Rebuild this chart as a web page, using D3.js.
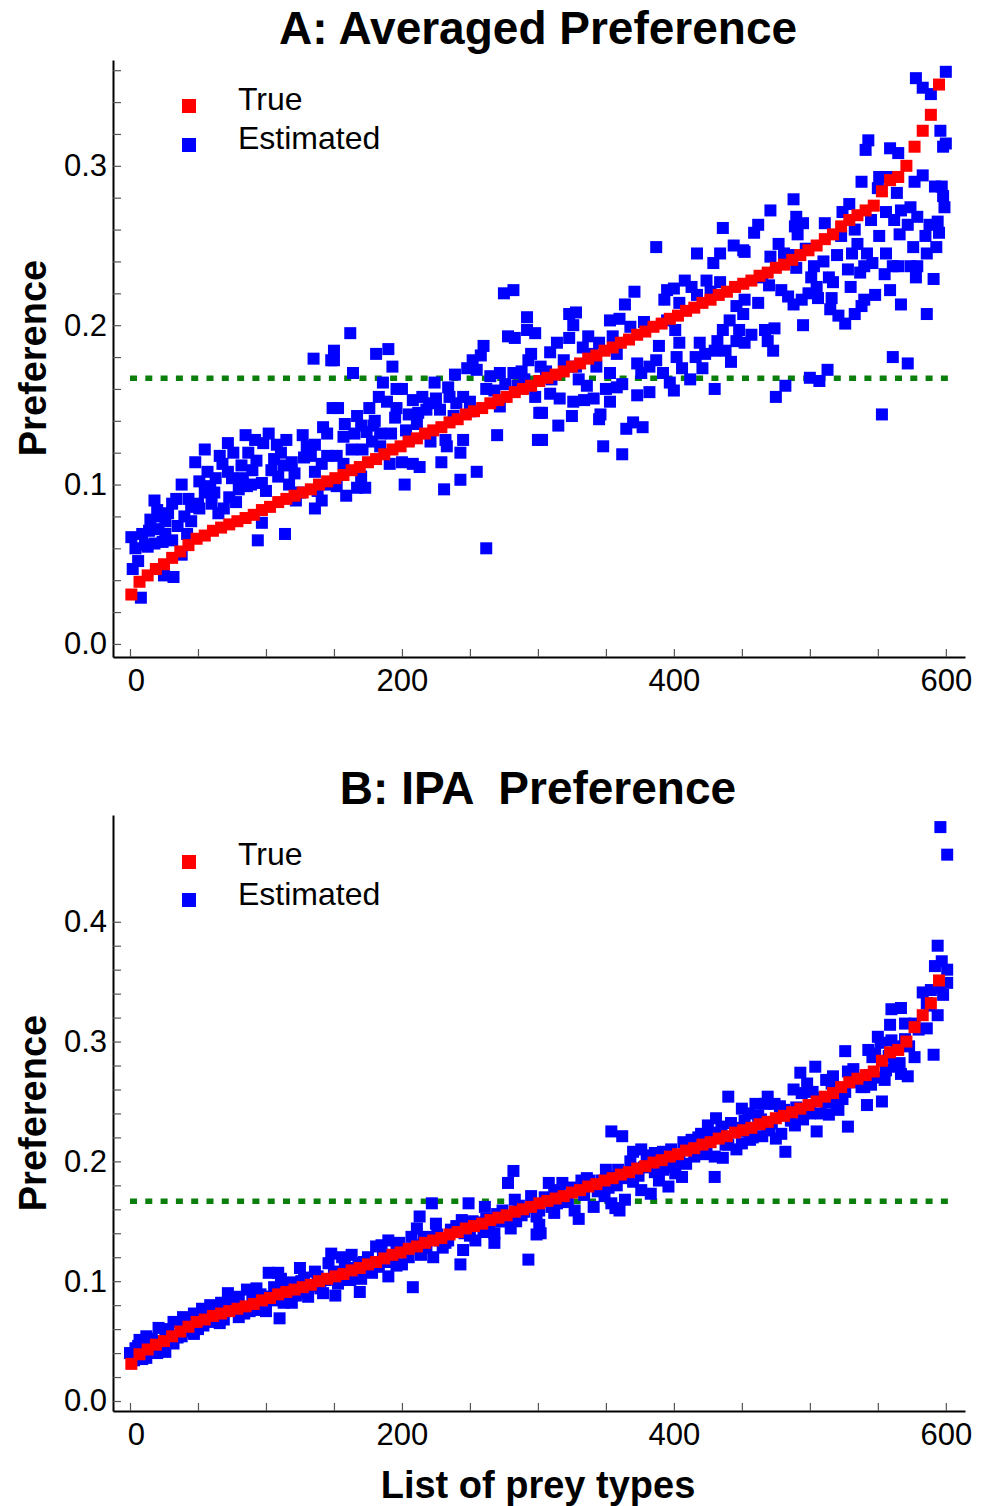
<!DOCTYPE html>
<html><head><meta charset="utf-8">
<script src="https://cdn.jsdelivr.net/npm/d3@7"></script>
<style>
html,body{margin:0;padding:0;background:#fff;}
svg{display:block;font-family:"Liberation Sans",Arial,Helvetica,sans-serif;}
</style></head>
<body>
<svg id="chart" width="989" height="1506"></svg>
<script>
// ---------- DATA ----------
const xTickLabels = [0, 200, 400, 600];
const xTicks = [0,50,100,150,200,250,300,350,400,450,500,550,600];
const yTickLabelsA = [0.0, 0.1, 0.2, 0.3];
const yTicksA = [0,0.02,0.04,0.06,0.08,0.1,0.12,0.14,0.16,0.18,0.2,0.22,0.24,0.26,0.28,0.3,0.32,0.34,0.36];
const yTickLabelsB = [0.0, 0.1, 0.2, 0.3, 0.4];
const yTicksB = [0,0.02,0.04,0.06,0.08,0.1,0.12,0.14,0.16,0.18,0.2,0.22,0.24,0.26,0.28,0.3,0.32,0.34,0.36,0.38,0.4];
const uniformLevel = 1/6;

// true preference (every 6th prey type, sorted)
const trueVals = [0.031,0.039,0.043,0.047,0.050,0.054,0.058,0.062,0.066,0.068,
0.071,0.073,0.075,0.077,0.079,0.081,0.084,0.086,0.089,0.091,
0.093,0.095,0.097,0.100,0.102,0.104,0.106,0.109,0.111,0.114,
0.116,0.119,0.122,0.124,0.127,0.129,0.132,0.134,0.136,0.139,
0.141,0.144,0.146,0.148,0.151,0.153,0.155,0.158,0.160,0.162,
0.165,0.167,0.169,0.171,0.174,0.176,0.179,0.181,0.184,0.186,
0.189,0.191,0.194,0.196,0.199,0.201,0.204,0.206,0.209,0.211,
0.214,0.216,0.219,0.221,0.224,0.226,0.228,0.231,0.233,0.236,
0.238,0.241,0.244,0.247,0.250,0.254,0.257,0.262,0.266,0.269,
0.272,0.275,0.284,0.291,0.293,0.300,0.312,0.322,0.332,0.351];
const truePrey = trueVals.map((v,i)=>1+6*i);

// Panel A: averaged-preference estimates [prey, value]
const estA = [
[8,.029],[2,.047],[6,.052],[1,.067],[11,.062],[18,.063],[15,.078],[23,.080],[21,.072],[18,.090],[32,.042],[25,.043],[38,.056],[31,.065],[38,.100],[34,.091],[42,.069],[45,.077],[48,.114],[55,.122],[51,.102],[59,.099],[62,.095],[51,.085],[72,.126],[72,.108],[76,.120],[69,.085],[73,.092],[80,.097],[85,.131],[82,.112],[87,.120],[93,.115],[89,.100],[97,.101],[94,.065],[97,.076],[102,.132],[98,.126],[104,.109],[109,.105],[114,.069],[115,.128],[111,.120],[117,.100],[121,.107],[127,.131],[130,.124],[136,.125],[125,.095],[122,.090],[136,.085],[141,.090],[142,.136],[145,.132],[136,.108],[141,.113],[135,.179],[148,.178],[149,.148],[147,.100],
[9,.069],[13,.061],[26,.069],[26,.077],[31,.088],[40,.080],[45,.086],[55,.095],[60,.088],[65,.082],[78,.089],[86,.099],
[20,.084],[28,.082],[35,.074],[43,.091],[50,.088],[57,.108],[63,.104],[68,.113],[75,.104],[83,.104],[90,.109],[100,.096],[106,.116],[113,.112],[119,.114],[128,.117],[133,.118],[138,.096],[145,.118],[66,.118],[92,.128],[108,.125],[4,.060],[14,.071],[24,.064],
[162,.195],[150,.184],[150,.178],[181,.182],[190,.185],[193,.174],[164,.170],[186,.164],[196,.160],[200,.160],[153,.148],[183,.155],[189,.152],[176,.148],[167,.143],[158,.138],[157,.130],[179,.137],[174,.133],[184,.132],[192,.132],[195,.142],[205,.144],[208,.153],[215,.155],[220,.151],[225,.154],[218,.147],[224,.164],[203,.134],[211,.138],[235,.155],[240,.151],[245,.155],[250,.152],[234,.161],[239,.169],[248,.173],[252,.178],[258,.181],[260,.187],[255,.172],[265,.168],[272,.170],[278,.193],[283,.192],[275,.220],[282,.222],[292,.205],[292,.197],[298,.195],[295,.182],[293,.178],[282,.170],[288,.171],[268,.159],[272,.149],[298,.155],[301,.145],[300,.128],[270,.131],[232,.128],[233,.124],[245,.128],[243,.120],[229,.114],[221,.127],[200,.114],[208,.113],[213,.111],[191,.113],[184,.124],[178,.127],[171,.122],[163,.122],[157,.113],[152,.118],[152,.099],[159,.093],[167,.098],[173,.098],[170,.105],[202,.100],[231,.097],[243,.103],[255,.108],[262,.060],
[165,.132],[170,.137],[196,.148],[212,.145],[228,.147],[238,.143],[250,.146],[262,.160],[276,.163],[285,.162],[290,.166],[180,.140],[205,.128],
[436,.261],[387,.249],[417,.245],[429,.239],[434,.245],[444,.250],[451,.247],[371,.221],[364,.213],[323,.207],[328,.208],[326,.200],[353,.203],[360,.204],[368,.199],[378,.202],[395,.222],[400,.223],[393,.216],[404,.214],[408,.228],[413,.224],[424,.228],[434,.227],[417,.219],[427,.221],[395,.203],[401,.197],[314,.189],[309,.183],[319,.178],[323,.192],[337,.193],[345,.189],[355,.193],[333,.186],[340,.182],[358,.182],[302,.174],[306,.171],[328,.174],[343,.174],[353,.170],[373,.176],[382,.174],[389,.187],[387,.178],[376,.170],[402,.180],[404,.189],[419,.189],[423,.182],[430,.184],[438,.184],[442,.177],[421,.173],[406,.173],[436,.197],[441,.203],[448,.197],[446,.212],[451,.207],[397,.164],[400,.159],[430,.160],[373,.156],[309,.157],[316,.154],[326,.152],[334,.153],[341,.154],[353,.152],[358,.161],[303,.145],[325,.143],[315,.137],[345,.141],[346,.144],[365,.135],[370,.139],[377,.136],[348,.124],[362,.119],[303,.128],
[310,.166],[330,.166],[336,.162],[350,.160],[362,.163],[382,.158],[392,.170],[412,.166],[416,.180],[432,.190],[446,.190],
[600,.359],[578,.355],[583,.349],[589,.345],[596,.322],[600,.314],[598,.312],[543,.316],[541,.310],[559,.311],[565,.308],[538,.290],[551,.293],[557,.293],[550,.286],[564,.283],[577,.290],[583,.294],[592,.287],[597,.287],[598,.281],[599,.274],[488,.279],[471,.272],[462,.263],[459,.258],[452,.246],[490,.268],[495,.264],[489,.262],[491,.257],[511,.264],[529,.276],[524,.271],[533,.260],[523,.256],[545,.266],[556,.271],[567,.272],[574,.274],[562,.266],[572,.263],[579,.268],[588,.263],[594,.265],[551,.256],[566,.257],[477,.251],[481,.245],[471,.243],[535,.251],[531,.245],[576,.249],[586,.245],[593,.249],[556,.245],[561,.237],[565,.237],[574,.237],[579,.237],[578,.230],[591,.229],[490,.236],[503,.237],[510,.240],[501,.230],[514,.230],[505,.224],[517,.227],[528,.235],[537,.233],[540,.237],[546,.239],[479,.222],[484,.218],[488,.213],[494,.216],[499,.220],[506,.217],[516,.217],[462,.214],[452,.216],[540,.216],[548,.219],[538,.212],[533,.207],[521,.206],[526,.201],[559,.222],[567,.213],[586,.207],[495,.200],[457,.194],[467,.197],[474,.198],[469,.190],[473,.184],[452,.189],[561,.180],[572,.176],[500,.167],[507,.165],[513,.172],[482,.162],[475,.155],[553,.144],
[465,.230],[470,.225],[485,.244],[497,.248],[520,.244],[542,.245],[555,.232],[585,.256],[595,.258],[530,.224],[515,.210]
];

// Panel B: IPA estimates [prey, value]
const estB = [
[0,.040],[4,.044],[7,.051],[12,.054],[12,.036],[20,.040],[21,.061],[26,.060],[32,.066],[26,.041],[32,.048],[39,.070],[47,.073],[38,.054],[47,.056],[53,.077],[59,.080],[54,.063],[61,.066],[67,.082],[72,.090],[80,.087],[69,.068],[80,.070],[86,.093],[93,.094],[88,.075],[94,.076],[100,.075],[102,.107],[109,.107],[111,.102],[110,.069],[104,.087],[113,.082],[119,.082],[125,.111],[114,.095],[125,.098],[130,.090],[136,.108],[131,.087],[142,.090],[151,.088],[146,.115],[148,.123],[156,.120],[163,.122],[153,.098],[160,.101],[169,.091],[165,.111],[175,.120],[170,.102],[178,.107],[181,.129],[190,.134],[185,.130],[190,.104],[183,.112],[198,.132],[200,.114],[205,.120],[208,.095],[207,.137],[213,.154],[211,.144],[219,.137],[223,.120],[225,.148],[222,.165],[232,.132],[236,.143],[244,.151],[245,.126],[243,.114],[249,.165],[254,.134],[261,.162],[258,.146],[268,.140],[268,.132],[274,.159],[278,.182],[282,.192],[280,.144],[283,.168],[293,.118],[295,.171],[299,.154],[299,.139],
[16,.052],[28,.058],[43,.068],[57,.074],[64,.079],[76,.083],[96,.089],[106,.095],[118,.099],[128,.103],[138,.104],[158,.114],[172,.116],[188,.116],[196,.127],[216,.136],[228,.134],[240,.146],[252,.150],[262,.152],[272,.150],[286,.163],[290,.158],
[9,.035],[18,.042],[35,.053],[50,.060],[66,.065],[84,.073],[98,.080],[122,.088],[140,.094],[162,.101],[176,.108],[196,.113],[214,.122],[230,.128],[250,.138],[264,.143],[284,.150],
[3,.034],[6,.046],[14,.047],[22,.050],[30,.055],[40,.062],[44,.058],[52,.070],[58,.068],[62,.074],[70,.075],[74,.080],[82,.078],[90,.085],[92,.080],[99,.087],[105,.084],[112,.093],[116,.088],[124,.092],[126,.100],[133,.096],[144,.101],[150,.108],[155,.102],[166,.106],[168,.115],[179,.113],[186,.122],[194,.119],[202,.124],[210,.130],[218,.128],[226,.139],[234,.134],[238,.141],[246,.140],[256,.149],[260,.141],[270,.156],[276,.150],[288,.155],[296,.164],
[596,.479],[601,.456],[594,.380],[597,.367],[592,.363],[601,.360],[601,.349],[598,.339],[583,.341],[589,.343],[586,.332],[594,.322],[586,.311],[577,.315],[560,.327],[567,.328],[559,.314],[570,.315],[550,.304],[552,.299],[560,.301],[591,.289],[577,.287],[573,.296],[543,.293],[546,.287],[526,.292],[562,.279],[567,.273],[572,.271],[555,.268],[538,.262],[545,.264],[528,.275],[517,.271],[512,.268],[553,.250],[542,.247],[528,.229],[520,.248],[521,.243],[514,.239],[508,.240],[504,.279],[493,.274],[498,.265],[488,.260],[494,.257],[505,.225],[500,.244],[495,.235],[489,.230],[469,.254],[474,.248],[467,.248],[440,.254],[450,.244],[455,.240],[460,.248],[481,.243],[479,.223],[475,.219],[482,.208],[469,.226],[465,.221],[456,.218],[442,.232],[445,.226],[431,.236],[425,.230],[435,.229],[450,.215],[446,.210],[430,.187],[430,.204],[436,.203],[420,.223],[413,.218],[407,.216],[415,.204],[409,.198],[401,.190],[406,.187],[396,.179],[389,.184],[386,.207],[392,.208],[381,.198],[376,.210],[370,.208],[354,.225],[362,.221],[371,.194],[359,.193],[366,.190],[364,.168],[354,.165],[360,.159],[357,.161],[376,.176],[383,.173],[347,.184],[338,.184],[332,.184],[354,.187],[341,.162],[330,.152],[327,.159],[318,.182],[312,.173],[308,.182],[325,.178],[312,.157],[301,.159],[301,.147],[302,.140],[349,.171],
[316,.176],[336,.186],[350,.193],[368,.200],[380,.205],[398,.210],[418,.220],[428,.224],[452,.234],[462,.238],[478,.246],[502,.258],[516,.265],[532,.277],[548,.290],
[310,.162],[322,.166],[344,.175],[358,.180],[374,.188],[392,.193],[404,.200],[422,.206],[440,.214],[458,.220],[470,.226],[486,.234],[500,.240],[524,.252],[540,.262],[556,.276],[566,.282],
[305,.170],[314,.165],[326,.178],[334,.172],[340,.180],[352,.178],[363,.186],[370,.183],[378,.195],[386,.191],[394,.203],[400,.195],[410,.211],[416,.207],[424,.213],[434,.222],[438,.214],[448,.228],[454,.225],[464,.235],[472,.232],[480,.240],[490,.245],[496,.243],[506,.253],[512,.249],[518,.260],[526,.258],[534,.266],[544,.272],[550,.270],[558,.288],[564,.296],[570,.302],[580,.310],[588,.330],[596,.345]
];

// ---------- DRAW ----------
const svg = d3.select("#chart");
const x = d3.scaleLinear().domain([-12.5, 614.1]).range([113, 965]);

function panel(cfg) {
  const y = d3.scaleLinear().domain(cfg.yDomain).range([cfg.bottom, cfg.top]);
  const g = svg.append("g");

  // x axis
  const xa = g.append("g").attr("transform", `translate(0,${cfg.bottom})`)
    .call(d3.axisBottom(x).tickValues(xTicks).tickSizeInner(-8).tickSizeOuter(0).tickPadding(12)
      .tickFormat(d => xTickLabels.includes(d) ? d : ""));
  xa.selectAll(".tick text").filter(d => d === 0).attr("dx", 6);
  // y axis
  const ya = g.append("g").attr("transform", `translate(113,0)`)
    .call(d3.axisLeft(y).tickValues(cfg.yTicks).tickSizeInner(-8).tickSizeOuter(0).tickPadding(6)
      .tickFormat(d => cfg.yLabels.some(l => Math.abs(l - d) < 1e-9) ? d3.format(".1f")(d) : ""));
  [xa, ya].forEach(a => {
    a.select(".domain").attr("stroke", "#000").attr("stroke-width", 2);
    a.selectAll(".tick line").attr("stroke", "#555").attr("stroke-width", 1.2);
    a.selectAll(".tick text").attr("fill", "#000").style("font-size", "31px")
      .style("font-family", '"Liberation Sans",Arial,sans-serif');
  });

  // uniform reference line
  g.append("line")
    .attr("x1", x(0)).attr("x2", x(601.5))
    .attr("y1", y(uniformLevel)).attr("y2", y(uniformLevel))
    .attr("stroke", "#0b7f0b").attr("stroke-width", 5.5)
    .attr("stroke-dasharray", "7 8.3");

  const s = 12;
  g.append("g").selectAll("rect").data(cfg.est).join("rect")
    .attr("x", d => x(d[0]) - s/2).attr("y", d => y(d[1]) - s/2)
    .attr("width", s).attr("height", s).attr("fill", "#0000ff");
  g.append("g").selectAll("rect").data(trueVals).join("rect")
    .attr("x", (d,i) => x(truePrey[i]) - s/2).attr("y", d => y(d) - s/2)
    .attr("width", s).attr("height", s).attr("fill", "#ff0000");

  // legend
  const L = cfg.legend;
  g.append("rect").attr("x", 182).attr("y", L.r - 7).attr("width", 14).attr("height", 14).attr("fill", "#ff0000");
  g.append("rect").attr("x", 182).attr("y", L.b - 7).attr("width", 14).attr("height", 14).attr("fill", "#0000ff");
  g.append("text").attr("x", 238).attr("y", L.t1).style("font-size", "32px").text("True");
  g.append("text").attr("x", 238).attr("y", L.t2).style("font-size", "32px").text("Estimated");

  // title
  g.append("text").attr("x", 538).attr("y", cfg.titleY).attr("text-anchor", "middle")
    .style("font-size", "46px").style("font-weight", "bold").style("white-space", "pre")
    .text(cfg.title);
  // y label
  g.append("text").attr("transform", `translate(46,${cfg.ylabY}) rotate(-90)`)
    .attr("text-anchor", "middle").style("font-size", "38px").style("font-weight", "bold")
    .text("Preference");
}

panel({ top: 60, bottom: 657, yDomain: [-0.0082, 0.3664], yTicks: yTicksA, yLabels: yTickLabelsA,
  est: estA, title: "A: Averaged Preference", titleY: 44, ylabY: 358,
  legend: { r: 106, b: 145, t1: 110, t2: 149 } });
panel({ top: 815, bottom: 1411, yDomain: [-0.00835, 0.4891], yTicks: yTicksB, yLabels: yTickLabelsB,
  est: estB, title: "B: IPA  Preference", titleY: 804, ylabY: 1113,
  legend: { r: 862, b: 900, t1: 865, t2: 905 } });

svg.append("text").attr("x", 538).attr("y", 1498).attr("text-anchor", "middle")
  .style("font-size", "38px").style("font-weight", "bold").text("List of prey types");
</script>
</body></html>
